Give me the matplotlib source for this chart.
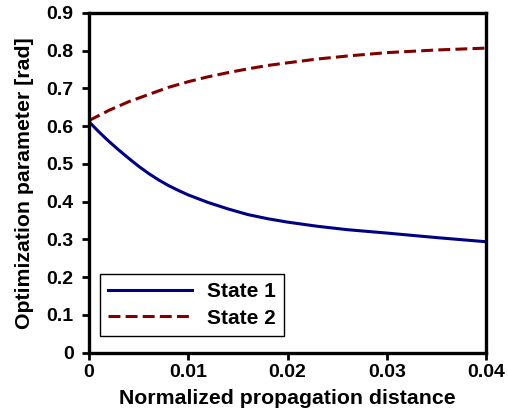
import matplotlib
matplotlib.use("Agg")
import matplotlib.pyplot as plt

plt.rcParams['font.family'] = ['Liberation Sans', 'DejaVu Sans']
plt.rcParams['font.weight'] = 'bold'

# Data
x1 = [0.0, 0.001, 0.002, 0.003, 0.004, 0.005, 0.006, 0.007, 0.008, 0.009, 0.010,
      0.012, 0.014, 0.016, 0.018, 0.020, 0.023, 0.026, 0.030, 0.035, 0.040]
y1 = [0.612, 0.585, 0.560, 0.537, 0.515, 0.494, 0.475, 0.458, 0.443, 0.430, 0.418,
      0.398, 0.381, 0.366, 0.355, 0.346, 0.335, 0.326, 0.317, 0.305, 0.294]

x2 = [0.0, 0.002, 0.004, 0.006, 0.008, 0.010, 0.012, 0.014, 0.016, 0.018, 0.020,
      0.023, 0.026, 0.030, 0.035, 0.040]
y2 = [0.615, 0.642, 0.665, 0.684, 0.703, 0.718, 0.731, 0.742, 0.752, 0.761, 0.768,
      0.778, 0.786, 0.795, 0.802, 0.807]

labels = ["State 1", "State 2"]
xticks = [0, 0.01, 0.02, 0.03, 0.04]
xticklabels = ["0", "0.01", "0.02", "0.03", "0.04"]
yticks = [0, 0.1, 0.2, 0.3, 0.4, 0.5, 0.6, 0.7, 0.8, 0.9]
yticklabels = ["0", "0.1", "0.2", "0.3", "0.4", "0.5", "0.6", "0.7", "0.8", "0.9"]

fig = plt.figure(figsize=(5.08, 4.18), dpi=100)
ax = fig.add_axes([0.1752, 0.1562, 0.7815, 0.8127])

ax.plot(x1, y1, color='#000080', lw=2.2, label=labels[0], solid_joinstyle='round')
ax.plot(x2, y2, color='#800000', lw=2.2, dashes=(3.9, 1.7), label=labels[1])

ax.set_xlim(0, 0.04)
ax.set_ylim(0, 0.9)
ax.set_xticks(xticks)
ax.set_xticklabels(xticklabels)
ax.set_yticks(yticks)
ax.set_yticklabels(yticklabels)
ax.tick_params(axis='both', direction='out', length=5, width=2, labelsize=14)
ax.tick_params(axis='x', pad=3)
ax.tick_params(axis='y', pad=6)
for s in ax.spines.values():
    s.set_linewidth(2.4)

ax.set_xlabel("Normalized propagation distance", fontsize=15.3, fontweight='bold', labelpad=6)
ax.set_ylabel("Optimization parameter [rad]", fontsize=15.3, fontweight='bold', labelpad=9)

leg = ax.legend(loc='lower left', fontsize=15, handlelength=4.0, fancybox=False,
                edgecolor='black', framealpha=1, borderaxespad=0.0,
                bbox_to_anchor=(0.0277, 0.049), borderpad=0.4, labelspacing=0.35,
                handletextpad=0.75)
leg.get_frame().set_linewidth(1.0)

fig.savefig("out.png", dpi=100)
